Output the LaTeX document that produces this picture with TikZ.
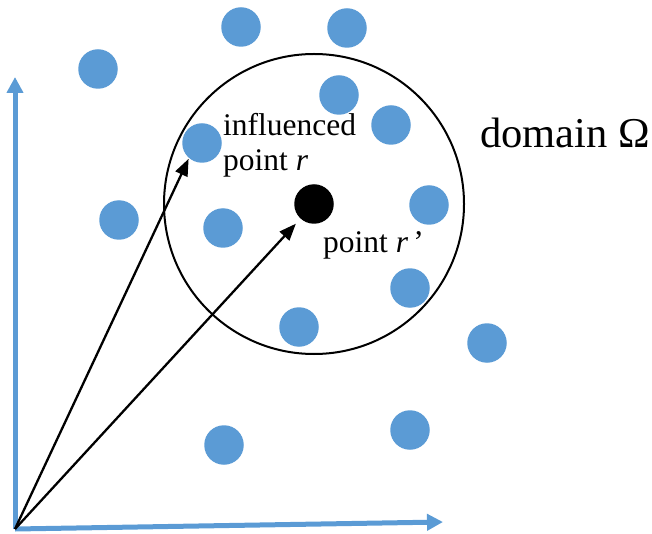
\documentclass[tikz,border=0pt]{standalone}
\usepackage{fontspec}
\setmainfont{Liberation Serif}
\usetikzlibrary{arrows.meta}
\definecolor{dotblue}{HTML}{5B9BD5}
\tikzset{
  bluedot/.style={circle,fill=dotblue,minimum size=39.5pt,inner sep=0pt,outer sep=0pt},
  blackdot/.style={circle,fill=black,minimum size=39.5pt,inner sep=0pt,outer sep=0pt},
  axisline/.style={draw=dotblue,line width=5pt,-{Triangle[length=16pt,width=16pt]}},
  vecline/.style={draw=black,line width=2.3pt,-{Triangle[length=17pt,width=13pt]}},
  lbl/.style={inner sep=0pt,anchor=base west,font=\fontsize{31.5}{35}\selectfont},
  biglbl/.style={inner sep=0pt,anchor=base west,font=\fontsize{42.5}{46}\selectfont}
}
\begin{document}
\begin{tikzpicture}[x=1pt,y=-1pt]
\useasboundingbox (0,0) rectangle (652,534);
% domain circle
\node[blackdot] (c) at (314,204) {};
\draw[black,line width=2pt] (c.center) circle[radius=150];
% blue points
\node[bluedot] (p1) at (98,69) {};
\node[bluedot] (p2) at (241,27) {};
\node[bluedot] (p3) at (347,28) {};
\node[bluedot] (p4) at (339,95) {};
\node[bluedot] (p5) at (391,125) {};
\node[bluedot] (p6) at (202,143) {};
\node[bluedot] (p7) at (119,220) {};
\node[bluedot] (p8) at (223,228) {};
\node[bluedot] (p9) at (429,205) {};
\node[bluedot] (p10) at (410,288) {};
\node[bluedot] (p11) at (299,327) {};
\node[bluedot] (p12) at (487,343) {};
\node[bluedot] (p13) at (224,445) {};
\node[bluedot] (p14) at (410,430) {};
% axes
\coordinate (o) at (15,529);
\coordinate (ytip) at (15,77);
\coordinate (xtip) at (443,522);
\draw[axisline] (o) -- (ytip);
\draw[axisline] (o) -- (xtip);
% vectors
\draw[vecline,shorten >=1pt] (o) -- (p6.229);
\draw[vecline,shorten >=7pt] (o) -- (c);
% labels
\node[lbl] (t1) at (223,136) {influenced};
\node[lbl] (t2) at (223,171) {point \textit{r}};
\node[lbl] (t3) at (323,252) {point \textit{r}\,’};
\node[biglbl] (t4) at (480,148) {domain Ω};
\end{tikzpicture}
\end{document}
